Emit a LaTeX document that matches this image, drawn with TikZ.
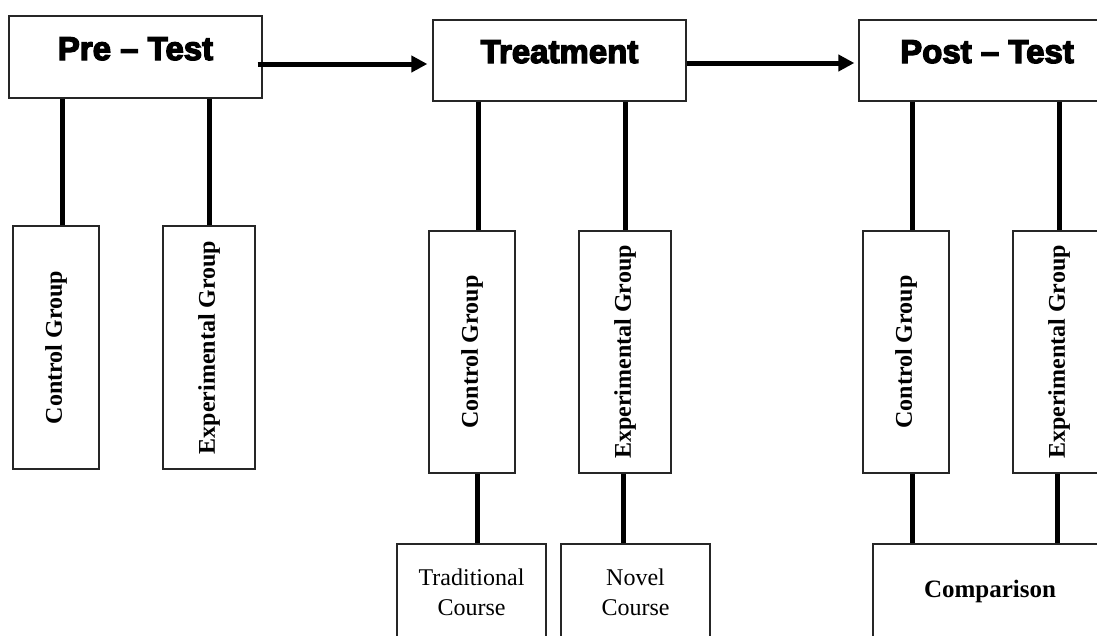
\documentclass[tikz,border=0pt]{standalone}
\usepackage{fontspec}
\setmainfont{Liberation Serif}
\newfontfamily\headfont[BoldFeatures={FakeBold=4}]{Liberation Sans}
\usetikzlibrary{arrows.meta,calc}
\begin{document}
\begin{tikzpicture}[x=1pt,y=-1pt,
  box/.style={draw=black!85,line width=1.3pt,fill=white,inner sep=0pt},
  headtext/.style={anchor=base,inner sep=0pt,font=\headfont\bfseries\fontsize{33}{38}\selectfont},
  grouptext/.style={rotate=90,inner sep=0pt,font=\bfseries\fontsize{24}{28}\selectfont},
  coursetext/.style={align=center,inner sep=0pt,font=\fontsize{24}{30}\selectfont},
  link/.style={line width=5pt},
  flow/.style={line width=5pt,-{Triangle[length=16pt,width=16pt]}}]
\clip (0,0) rectangle (1097,635);
\useasboundingbox (0,0) rectangle (1097,635);

% stage headers
\node[box,minimum width=253,minimum height=82] (pre)   at (135.5,57) {};
\node[box,minimum width=253,minimum height=81] (treat) at (559.5,60.5) {};
\node[box,minimum width=256,minimum height=81] (post)  at (987,60.5) {};
\node[headtext] (preT)   at ([yshift=-3pt]pre.center)     {Pre – Test};
\node[headtext] (treatT) at ([yshift=-2.5pt]treat.center) {Treatment};
\node[headtext] (postT)  at ([yshift=-2.5pt]post.center)  {Post – Test};

% group boxes
\node[box,minimum width=86,minimum height=243] (pc) at (56,347.5)  {};
\node[box,minimum width=92,minimum height=243] (pe) at (209,347.5) {};
\node[box,minimum width=86,minimum height=242] (tc) at (472,352)   {};
\node[box,minimum width=92,minimum height=242] (te) at (625,352)   {};
\node[box,minimum width=86,minimum height=242] (oc) at (906,352)   {};
\node[box,minimum width=92,minimum height=242] (oe) at (1059,352)  {};
\foreach \g in {pc,tc,oc}{\node[grouptext] (\g T) at (\g.center) {Control Group};}
\foreach \g in {pe,te,oe}{\node[grouptext] (\g T) at (\g.center) {Experimental Group};}

% outcome boxes
\node[box,minimum width=149,minimum height=116] (trad)  at (471.5,602) {};
\node[box,minimum width=149,minimum height=116] (novel) at (635.5,602) {};
\node[box,minimum width=234,minimum height=116] (comp)  at (990,602)   {};
\node[coursetext] (tradT)  at ([yshift=-49pt]trad.north)  {Traditional\\Course};
\node[coursetext] (novelT) at ([yshift=-49pt]novel.north) {Novel\\Course};
\node[anchor=base,inner sep=0pt,font=\bfseries\fontsize{25}{30}\selectfont] (compT)
  at ([yshift=-54pt]comp.north) {Comparison};

% flow between stages
\draw[flow] ([shift={(-5pt,-7pt)}]pre.east) -- ([shift={(-5pt,-3.5pt)}]treat.west);
\draw[flow] ([shift={(0pt,-2.5pt)}]treat.east) -- ([shift={(-4pt,-2.5pt)}]post.west);

% header to group links
\coordinate (pcA) at ($(pc.north)+(6,0)$);
\coordinate (tcA) at ($(tc.north)+(6,0)$);
\coordinate (ocA) at ($(oc.north)+(6,0)$);
\draw[link] (pre.south -| pcA) -- (pcA);
\draw[link] (pre.south -| pe.north) -- (pe.north);
\draw[link] (treat.south -| tcA) -- (tcA);
\draw[link] (treat.south -| te.north) -- (te.north);
\draw[link] (post.south -| ocA) -- (ocA);
\draw[link] (post.south -| oe.north) -- (oe.north);

% group to outcome links
\coordinate (tcB) at ($(tc.south)+(5,0)$);
\coordinate (teB) at ($(te.south)+(-2,0)$);
\coordinate (ocB) at ($(oc.south)+(6,0)$);
\coordinate (oeB) at ($(oe.south)+(-2,0)$);
\draw[link] (tcB) -- (trad.north -| tcB);
\draw[link] (teB) -- (novel.north -| teB);
\draw[link] (ocB) -- (comp.north -| ocB);
\draw[link] (oeB) -- (comp.north -| oeB);
\end{tikzpicture}
\end{document}
